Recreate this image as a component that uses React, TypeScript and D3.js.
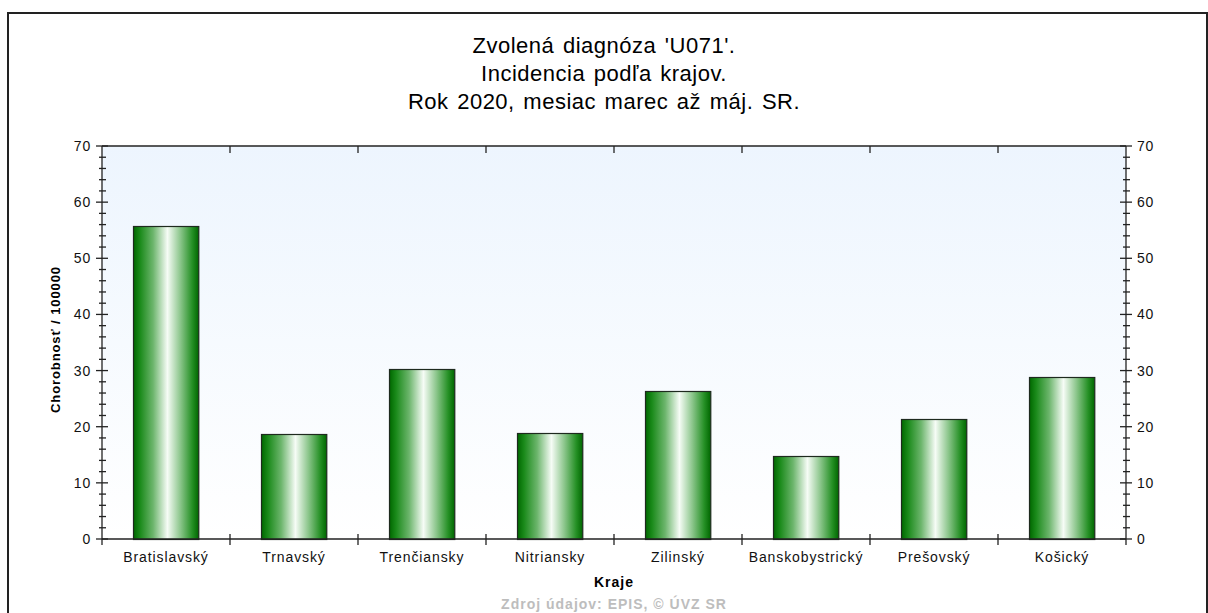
import { useRef, useEffect } from 'react';
import * as d3 from 'd3';

const regions = [
  'Bratislavský',
  'Trnavský',
  'Trenčiansky',
  'Nitriansky',
  'Zilinský',
  'Banskobystrický',
  'Prešovský',
  'Košický',
];
const incidence = [55.8, 18.65, 30.2, 18.9, 26.4, 14.8, 21.3, 28.9];
const yTicks = [0, 10, 20, 30, 40, 50, 60, 70];
const titleLines = [
  "Zvolená diagnóza 'U071'.",
  'Incidencia podľa krajov.',
  'Rok 2020, mesiac marec až máj. SR.',
];

const W = 1208;
const H = 613;
const plot = { left: 102, right: 1126, top: 146, bottom: 539 };
const labelFont = '"Liberation Sans", Arial, sans-serif';

export default function App() {
  const svgRef = useRef<SVGSVGElement | null>(null);

  function renderChart() {
    const svg = d3.select(svgRef.current);
    svg.selectAll('*').remove();

    const defs = svg.append('defs');
    const bg = defs
      .append('linearGradient')
      .attr('id', 'plotBg')
      .attr('x1', 0)
      .attr('y1', 0)
      .attr('x2', 0)
      .attr('y2', 1);
    bg.append('stop').attr('offset', 0).attr('stop-color', '#edf5fe');
    bg.append('stop').attr('offset', 1).attr('stop-color', '#ffffff');

    const bar = defs
      .append('linearGradient')
      .attr('id', 'barFill')
      .attr('x1', 0)
      .attr('y1', 0)
      .attr('x2', 1)
      .attr('y2', 0);
    [
      [0, '#006800'],
      [0.1, '#1a8a1a'],
      [0.3, '#6cb56c'],
      [0.52, '#f6fcf6'],
      [0.72, '#8ac58a'],
      [0.9, '#259025'],
      [1, '#006600'],
    ].forEach(([o, c]) => bar.append('stop').attr('offset', o).attr('stop-color', c));

    // outer frame
    svg
      .append('rect')
      .attr('x', 8)
      .attr('y', 13)
      .attr('width', 1199)
      .attr('height', 640)
      .attr('fill', '#fff')
      .attr('stroke', '#222')
      .attr('stroke-width', 2);

    // title
    svg
      .append('g')
      .selectAll('text')
      .data(titleLines)
      .join('text')
      .attr('x', W / 2)
      .attr('y', (d, i) => 53 + i * 28)
      .attr('text-anchor', 'middle')
      .style('font', `22px ${labelFont}`)
      .style('letter-spacing', '0.5px')
      .style('word-spacing', '2px')
      .attr('fill', '#000')
      .text(d => d);

    const x = d3
      .scaleBand()
      .domain(regions)
      .range([plot.left, plot.right])
      .padding(0);
    const y = d3.scaleLinear().domain([0, 70]).range([plot.bottom, plot.top]);

    svg
      .append('rect')
      .attr('x', plot.left)
      .attr('y', plot.top)
      .attr('width', plot.right - plot.left)
      .attr('height', plot.bottom - plot.top)
      .attr('fill', 'url(#plotBg)');

    // bars
    const bw = x.bandwidth() * 0.51;
    svg
      .append('g')
      .selectAll('rect')
      .data(incidence)
      .join('rect')
      .attr('x', (d, i) => Math.round(x(regions[i])! + (x.bandwidth() - bw) / 2) + 0.5)
      .attr('y', d => Math.round(y(d)) + 0.5)
      .attr('width', bw)
      .attr('height', d => plot.bottom - Math.round(y(d)))
      .attr('fill', 'url(#barFill)')
      .attr('stroke', '#1e2a1e')
      .attr('stroke-width', 1.2);

    const axes = svg.append('g').attr('stroke', '#222').attr('stroke-width', 1.3);
    // frame lines
    axes.append('line').attr('x1', plot.left).attr('x2', plot.right).attr('y1', plot.top).attr('y2', plot.top);
    axes.append('line').attr('x1', plot.left).attr('x2', plot.right).attr('y1', plot.bottom).attr('y2', plot.bottom);
    axes.append('line').attr('x1', plot.left).attr('x2', plot.left).attr('y1', plot.top).attr('y2', plot.bottom + 6);
    axes.append('line').attr('x1', plot.right).attr('x2', plot.right).attr('y1', plot.top).attr('y2', plot.bottom + 6);

    // y ticks, both sides
    const minor = d3.range(0, 71, 2).filter(v => v % 10 !== 0);
    [plot.left, plot.right].forEach(ax => {
      axes
        .append('g')
        .selectAll('line')
        .data(yTicks)
        .join('line')
        .attr('x1', ax - 6)
        .attr('x2', ax + 6)
        .attr('y1', d => y(d))
        .attr('y2', d => y(d));
      axes
        .append('g')
        .selectAll('line')
        .data(minor)
        .join('line')
        .attr('x1', ax - 3)
        .attr('x2', ax + 4)
        .attr('y1', d => y(d))
        .attr('y2', d => y(d));
    });

    // category ticks
    const bounds = regions.slice(1).map(r => x(r)!);
    axes
      .append('g')
      .selectAll('line')
      .data(bounds)
      .join('line')
      .attr('x1', d => d)
      .attr('x2', d => d)
      .attr('y1', plot.bottom - 5)
      .attr('y2', plot.bottom + 6);
    axes
      .append('g')
      .selectAll('line')
      .data(bounds)
      .join('line')
      .attr('x1', d => d)
      .attr('x2', d => d)
      .attr('y1', plot.top)
      .attr('y2', plot.top + 7);

    // tick labels
    const tickText = (ax: number, anchor: string) =>
      svg
        .append('g')
        .selectAll('text')
        .data(yTicks)
        .join('text')
        .attr('x', ax)
        .attr('y', d => y(d) + 5)
        .attr('text-anchor', anchor)
        .style('font', `14px ${labelFont}`)
        .style('letter-spacing', '0.8px')
        .attr('fill', '#111')
        .text(d => d);
    tickText(plot.left - 11, 'end');
    tickText(plot.right + 11, 'start');

    svg
      .append('g')
      .selectAll('text')
      .data(regions)
      .join('text')
      .attr('x', d => x(d)! + x.bandwidth() / 2)
      .attr('y', 562)
      .attr('text-anchor', 'middle')
      .style('font', `14px ${labelFont}`)
      .style('letter-spacing', '0.9px')
      .attr('fill', '#111')
      .text(d => d);

    svg
      .append('text')
      .attr('x', (plot.left + plot.right) / 2)
      .attr('y', 587)
      .attr('text-anchor', 'middle')
      .style('font', `bold 14px ${labelFont}`)
      .style('letter-spacing', '1px')
      .text('Kraje');

    svg
      .append('text')
      .attr('transform', `translate(60,${(plot.top + plot.bottom) / 2 - 3}) rotate(-90)`)
      .attr('text-anchor', 'middle')
      .style('font', `bold 13px ${labelFont}`)
      .style('letter-spacing', '0.9px')
      .text('Chorobnosť / 100000');

    svg
      .append('text')
      .attr('x', (plot.left + plot.right) / 2)
      .attr('y', 609)
      .attr('text-anchor', 'middle')
      .style('font', `bold 14px ${labelFont}`)
      .style('letter-spacing', '1px')
      .attr('fill', '#bdbdbd')
      .text('Zdroj údajov: EPIS, © ÚVZ SR');
  }

  useEffect(() => {
    renderChart();
    // eslint-disable-next-line react-hooks/exhaustive-deps
  }, []);

  return (
    <svg
      ref={svgRef}
      width={W}
      height={H}
      style={{ position: 'absolute', left: 0, top: 0, display: 'block', background: '#fff' }}
    />
  );
}
